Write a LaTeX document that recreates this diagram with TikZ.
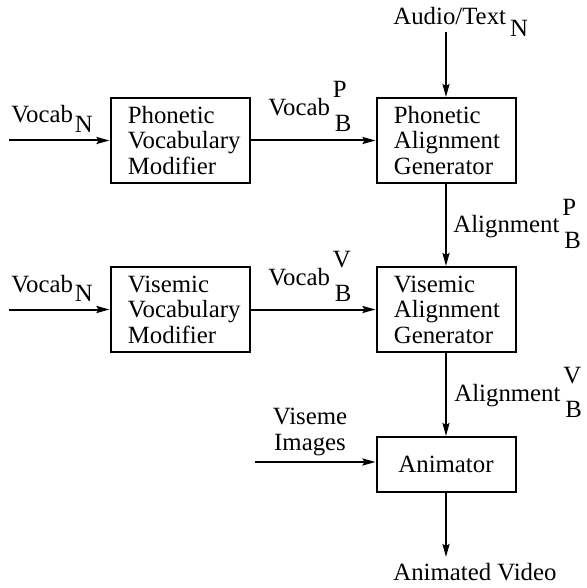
\documentclass[tikz,border=0pt]{standalone}
\usepackage{fontspec}
\setmainfont{Liberation Serif}
\newfontfamily\tmsfont{Liberation Serif}
\usetikzlibrary{arrows.meta}
\newcommand{\supsub}[2]{\kern1.5pt\rlap{\raisebox{9pt}{#1}}\kern1pt\raisebox{-8pt}{#2}}
\newcommand{\lowsub}[1]{\kern1pt\raisebox{-5pt}{#1}}

\begin{document}
\begin{tikzpicture}[x=0.5pt,y=-0.5pt,
  font=\tmsfont\fontsize{12.4}{12.75}\selectfont,
  box/.style={draw,line width=1pt,minimum width=69.5pt,minimum height=42.5pt,inner sep=0pt},
  boxtext/.style={anchor=west,align=left,inner sep=0pt,xshift=9pt},
  lbl/.style={anchor=base west,inner sep=0pt},
  flow/.style={line width=1pt,-{Stealth[length=6.5pt,width=3.5pt,inset=1pt]}}]
\useasboundingbox (0,0) rectangle (586,588);
% boxes
\node[box] (pvm) at (180,140.5) {};
\node[box] (pag) at (446,140.5) {};
\node[box] (vvm) at (180,309.5) {};
\node[box] (vag) at (446,309.5) {};
\node[box,minimum height=27.5pt] (anim) at (446,464.5) {Animator};
\node[boxtext] (pvmtext) at (pvm.west) {Phonetic\\Vocabulary\\Modifier};
\node[boxtext] (pagtext) at (pag.west) {Phonetic\\Alignment\\Generator};
\node[boxtext] (vvmtext) at (vvm.west) {Visemic\\Vocabulary\\Modifier};
\node[boxtext] (vagtext) at (vag.west) {Visemic\\Alignment\\Generator};
% free ends
\coordinate (vin1) at (9,140.5);
\coordinate (vin2) at (9,309.5);
\coordinate (ain) at (446,32);
\coordinate (vimg) at (255,462);
\coordinate (vout) at (446,557);
% labels
\node[lbl] (audio) at (393,25) {Audio/Text\kern2pt\raisebox{-6pt}{N}};
\node[lbl] (vocabn1) at (11,123) {Vocab\lowsub{N}};
\node[lbl] (vocabp) at (268,116) {Vocab\supsub{P}{B}};
\node[lbl] (alignp) at (453,233) {Alignment\supsub{P}{B}};
\node[lbl] (vocabn2) at (11,292) {Vocab\lowsub{N}};
\node[lbl] (vocabv) at (268,285) {Vocab\supsub{V}{B}};
\node[lbl] (alignv) at (454,401) {Alignment\supsub{V}{B}};
\node[align=center,inner sep=0pt] (viseme) at (310,432) {Viseme\\Images};
\node[lbl] (video) at (393,580) {Animated Video};
% connectors
\draw[flow] (vin1) -- (pvm);
\draw[flow] (pvm) -- (pag);
\draw[flow] (ain) -- (pag);
\draw[flow] (pag) -- (vag);
\draw[flow] (vin2) -- (vvm);
\draw[flow] (vvm) -- (vag);
\draw[flow] (vag) -- (anim);
\draw[flow] (vimg) -- (vimg -| anim.west);
\draw[flow] (anim) -- (vout);
\end{tikzpicture}
\end{document}
